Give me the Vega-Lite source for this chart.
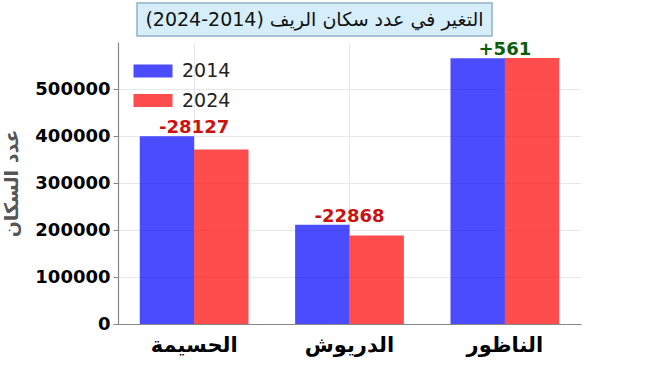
{
  "$schema": "https://vega.github.io/schema/vega-lite/v6.json",
  "padding": {"left": 2, "top": 2, "right": 5, "bottom": 5},
  "background": "white",
  "spacing": 3,
  "config": {
    "font": "DejaVu Sans",
    "view": {"stroke": null}
  },
  "vconcat": [
    {
      "spacing": 0,
      "hconcat": [
        {
          "width": 18,
          "height": 33,
          "data": {"values": []},
          "mark": {"type": "text"},
          "encoding": {}
        },
        {
          "width": 355,
          "height": 33,
          "view": {"fill": "#d5eefa", "stroke": "#8fb3c6", "strokeWidth": 1.5},
          "data": {"values": [{"t": "التغير في عدد سكان الريف (2014-2024)"}]},
          "mark": {"type": "text", "font": "DejaVu Sans", "fontSize": 19, "color": "#111111"},
          "encoding": {
            "text": {"field": "t"}
          }
        }
      ]
    },
    {
      "width": 463,
      "height": 282,
      "data": {
        "values": [
          {"city": "الحسيمة", "year": "2014", "pop": 399654, "label": "-28127"},
          {"city": "الحسيمة", "year": "2024", "pop": 371527, "label": "-28127"},
          {"city": "الدريوش", "year": "2014", "pop": 211059, "label": "-22868"},
          {"city": "الدريوش", "year": "2024", "pop": 188191, "label": "-22868"},
          {"city": "الناظور", "year": "2014", "pop": 565426, "label": "+561"},
          {"city": "الناظور", "year": "2024", "pop": 565987, "label": "+561"}
        ]
      },
      "encoding": {
        "x": {
          "field": "city", "type": "nominal",
          "sort": ["الحسيمة", "الدريوش", "الناظور"],
          "scale": {"paddingInner": 0.3, "paddingOuter": 0.14},
          "axis": {
            "title": null, "labelAngle": 0, "ticks": false, "bandPosition": 0.5,
            "grid": true, "gridColor": "#e8e8e8", "gridWidth": 1,
            "domainColor": "#888888", "domainWidth": 1.2,
            "labelFont": "DejaVu Sans", "labelFontSize": 21, "labelFontWeight": "bold",
            "labelColor": "#000000", "labelPadding": 10
          }
        }
      },
      "layer": [
        {
          "mark": {"type": "bar", "opacity": 0.7},
          "encoding": {
            "xOffset": {"field": "year", "type": "nominal", "scale": {"paddingInner": 0, "paddingOuter": 0}},
            "y": {
              "field": "pop", "type": "quantitative",
              "scale": {"domain": [0, 600000], "nice": false},
              "axis": {
                "values": [0, 100000, 200000, 300000, 400000, 500000],
                "format": "d",
                "title": "عدد السكان",
                "titleFont": "DejaVu Sans", "titleFontSize": 19, "titleFontWeight": "bold",
                "titleColor": "#555555", "titlePadding": 13,
                "labelFont": "DejaVu Sans", "labelFontSize": 18, "labelFontWeight": "bold",
                "labelColor": "#000000", "labelPadding": 3,
                "tickColor": "#888888", "tickSize": 5,
                "domainColor": "#888888", "domainWidth": 1.2,
                "grid": true, "gridColor": "#e8e8e8", "gridWidth": 1
              }
            },
            "color": {
              "field": "year", "type": "nominal",
              "scale": {"range": ["#0000ff", "#ff0000"]},
              "legend": {
                "title": null, "orient": "none", "legendX": 22, "legendY": 55,
                "symbolType": "M-1.5,-0.5h3v1h-3z", "symbolSize": 676,
                "symbolOpacity": 0.7, "symbolStrokeWidth": 0,
                "labelFont": "DejaVu Sans", "labelFontSize": 19, "labelColor": "#222222",
                "labelOffset": 16, "rowPadding": 6.5
              }
            }
          }
        },
        {
          "transform": [
            {"joinaggregate": [{"op": "max", "field": "pop", "as": "top"}], "groupby": ["city"]},
            {"filter": "datum.year == '2014'"}
          ],
          "mark": {"type": "text", "fontSize": 18, "fontWeight": "bold", "baseline": "bottom", "dy": 1},
          "encoding": {
            "y": {"field": "top", "type": "quantitative"},
            "text": {"field": "label"},
            "color": {"condition": {"test": "indexof(datum.label, '+') >= 0", "value": "#0b5e0b"}, "value": "#cc1111"}
          }
        }
      ]
    }
  ]
}
